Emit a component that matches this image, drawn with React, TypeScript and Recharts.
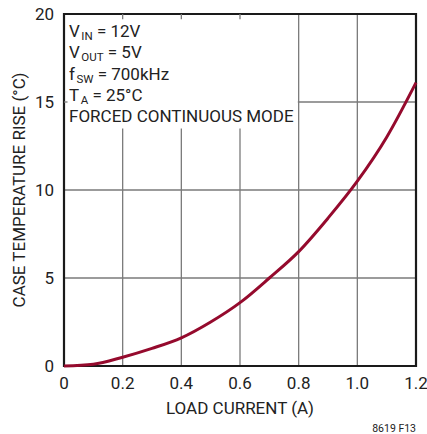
import React from "react";
import {
  LineChart,
  Line,
  XAxis,
  YAxis,
  CartesianGrid,
  ReferenceArea,
  ReferenceLine,
} from "recharts";

const loadCurrent = [0, 0.1, 0.2, 0.3, 0.4, 0.5, 0.6, 0.7, 0.8, 0.9, 1.0, 1.1, 1.2];
const tempRise = [0, 0.1, 0.5, 1.0, 1.6, 2.5, 3.6, 5.0, 6.5, 8.4, 10.5, 13.0, 16.1];
const xTicks = [0, 0.2, 0.4, 0.6, 0.8, 1.0, 1.2];
const yTicks = [0, 5, 10, 15, 20];

const data = loadCurrent.map((x, i) => ({ x, y: tempRise[i] }));

const FONT = "Roboto, 'Liberation Sans', sans-serif";
const TEXT = "#222";

const YTitle = (props: any) => {
  const vb = props.viewBox || { x: 0, y: 14, width: 64, height: 352 };
  const cx = vb.x + 19;
  const cy = vb.y + vb.height / 2;
  return (
    <text
      x={cx}
      y={cy}
      transform={`rotate(-90 ${cx} ${cy})`}
      textAnchor="middle"
      dominantBaseline="central"
      fontFamily={FONT}
      fontSize={17}
      fill={TEXT}
    >
      CASE TEMPERATURE RISE (°C)
    </text>
  );
};

const XTitle = (props: any) => {
  const vb = props.viewBox || { x: 64, y: 366, width: 352, height: 68 };
  return (
    <g>
      <text
        x={vb.x + vb.width / 2}
        y={vb.y + 48}
        textAnchor="middle"
        fontFamily={FONT}
        fontSize={17}
        fill={TEXT}
      >
        LOAD CURRENT (A)
      </text>
      <text
        x={vb.x + vb.width}
        y={vb.y + 66}
        textAnchor="end"
        fontFamily={FONT}
        fontSize={10.5}
        fill={TEXT}
      >
        8619 F13
      </text>
    </g>
  );
};

// conditions block in the upper left corner
const Conditions = (props: any) => {
  const vb = props.viewBox || { x: 64, y: 14 };
  const x = vb.x + 5;
  const base = vb.y + 22.7;
  const step = 21.4;
  const sub = (s: string) => (
    <>
      <tspan dx={1.5} dy={3} fontSize={11.5}>
        {s}
      </tspan>
      <tspan dy={-3}> </tspan>
    </>
  );
  return (
    <g fontFamily={FONT} fontSize={17} fill={TEXT}>
      <text x={x} y={base}>
        V{sub("IN")}= 12V
      </text>
      <text x={x} y={base + step}>
        V{sub("OUT")}= 5V
      </text>
      <text x={x} y={base + step * 2}>
        f{sub("SW")}= 700kHz
      </text>
      <text x={x} y={base + step * 3}>
        T{sub("A")}= 25°C
      </text>
      <text x={x} y={base + step * 4}>
        FORCED CONTINUOUS MODE
      </text>
    </g>
  );
};

export default function App() {
  return (
    <div style={{ position: "absolute", left: 0, top: 0, background: "#fff" }}>
      <LineChart
        width={427}
        height={434}
        data={data}
        margin={{ top: 14, right: 11, bottom: 0, left: 0 }}
      >
        <CartesianGrid stroke="#7a7a7a" strokeWidth={1.3} />
        <XAxis
          dataKey="x"
          type="number"
          domain={[0, 1.2]}
          ticks={xTicks}
          interval={0}
          height={68}
          tickLine={false}
          tickSize={0}
          tickMargin={11}
          axisLine={false}
          tickFormatter={(v: number) => (v === 0 ? "0" : v.toFixed(1))}
          tick={{ fontSize: 17, fill: TEXT, fontFamily: FONT }}
          label={{ content: XTitle }}
        />
        <YAxis
          type="number"
          domain={[0, 20]}
          ticks={yTicks}
          interval={0}
          width={64}
          tickLine={false}
          tickSize={0}
          tickMargin={10}
          axisLine={false}
          tick={{ fontSize: 17, fill: TEXT, fontFamily: FONT }}
          label={{ content: YTitle }}
        />
        <ReferenceArea
          x1={0}
          x2={0.797}
          y1={13.5}
          y2={20}
          fill="#fff"
          fillOpacity={1}
          stroke="none"
          label={{ content: Conditions }}
        />
        {[0.2, 0.4, 0.6].map((t) => (
          <ReferenceLine
            key={t}
            segment={[
              { x: t, y: 20 },
              { x: t, y: 19.7 },
            ]}
            stroke="#7a7a7a"
            strokeWidth={1.3}
          />
        ))}
        <ReferenceLine
          segment={[
            { x: 0, y: 15 },
            { x: 0.012, y: 15 },
          ]}
          stroke="#7a7a7a"
          strokeWidth={1.3}
        />
        <ReferenceArea
          x1={0}
          x2={1.2}
          y1={0}
          y2={20}
          fill="none"
          stroke="#1a1a1a"
          strokeWidth={2.2}
        />
        <Line
          type="monotone"
          dataKey="y"
          stroke="#950a2d"
          strokeWidth={3}
          dot={false}
          isAnimationActive={false}
        />
      </LineChart>
    </div>
  );
}
